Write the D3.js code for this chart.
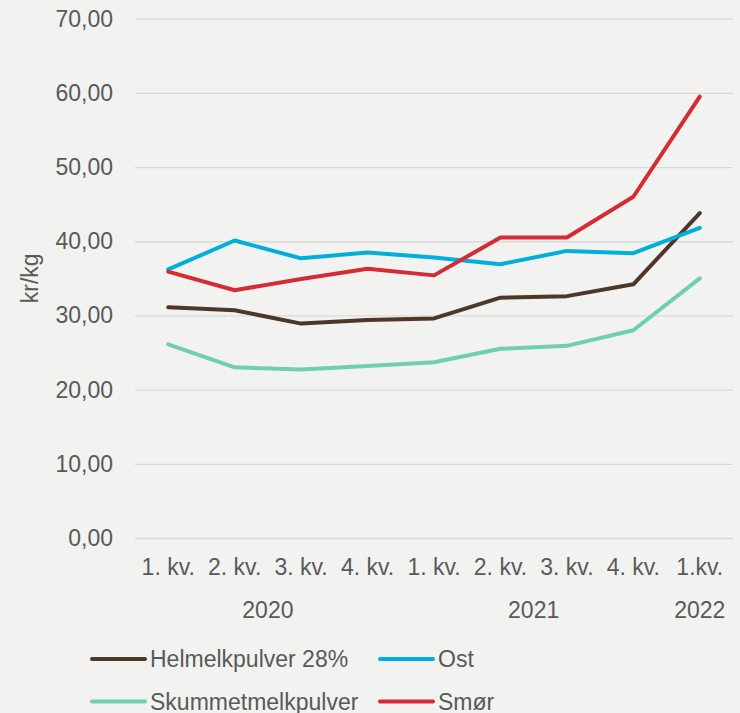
<!DOCTYPE html>
<html>
<head>
<meta charset="utf-8">
<script src="https://cdn.jsdelivr.net/npm/d3@7"></script>
<style>
  body { margin: 0; background: #f2f2f0; }
  text { font-family: "Liberation Sans", Arial, sans-serif; fill: #595959; }
</style>
</head>
<body>
<div id="chart-area"></div>
<script>
const quarters = ["1. kv.", "2. kv.", "3. kv.", "4. kv.", "1. kv.", "2. kv.", "3. kv.", "4. kv.", "1.kv."];
const years = [
  { label: "2020", from: 0, to: 3 },
  { label: "2021", from: 4, to: 7 },
  { label: "2022", from: 8, to: 8 }
];
const yTicks = [0, 10, 20, 30, 40, 50, 60, 70];

const helmelk = [31.1, 30.7, 28.9, 29.4, 29.6, 32.4, 32.6, 34.2, 43.8];
const ost = [36.2, 40.1, 37.7, 38.5, 37.8, 36.9, 38.7, 38.4, 41.8];
const smor = [35.9, 33.4, 34.9, 36.3, 35.4, 40.5, 40.5, 46.0, 59.5];
const skummet = [26.1, 23.0, 22.7, 23.2, 23.7, 25.5, 25.9, 28.0, 35.0];

const series = [
  { name: "Helmelkpulver 28%", values: helmelk, color: "#4e3629" },
  { name: "Ost", values: ost, color: "#00b0da" },
  { name: "Skummetmelkpulver", values: skummet, color: "#6fcfb0" },
  { name: "Smør", values: smor, color: "#d52b35" }
];

const width = 740, height = 713;
const plotLeft = 135, plotRight = 733, plotTop = 18.7, plotBottom = 538;

const svg = d3.select("#chart-area").append("svg")
    .attr("width", width)
    .attr("height", height);

svg.append("rect").attr("width", width).attr("height", height).attr("fill", "#f2f2f0");

const x = d3.scaleBand().domain(d3.range(quarters.length)).range([plotLeft, plotRight]);
const y = d3.scaleLinear().domain([0, 70]).range([plotBottom, plotTop]);

// gridlines + y labels
const yAxis = svg.append("g")
    .attr("transform", `translate(${plotLeft},0)`)
    .call(d3.axisLeft(y).tickValues(yTicks).tickSize(-(plotRight - plotLeft)).tickPadding(22)
      .tickFormat(d => d3.format(".2f")(d).replace(".", ",")));
yAxis.select(".domain").remove();
yAxis.selectAll(".tick line").attr("stroke", "#d9d9d9").attr("stroke-width", 1.3);
yAxis.selectAll(".tick text").attr("font-size", 23).attr("fill", "#595959")
    .attr("font-family", "Liberation Sans, Arial, sans-serif");

svg.append("text")
    .attr("transform", `translate(38,${(plotTop + plotBottom) / 2}) rotate(-90)`)
    .attr("text-anchor", "middle")
    .attr("font-size", 23)
    .text("kr/kg");

// x labels, quarter then year
const xAxis = svg.append("g")
    .attr("transform", `translate(0,${plotBottom})`)
    .call(d3.axisBottom(x).tickSize(0).tickPadding(0).tickFormat(i => quarters[i]));
xAxis.select(".domain").remove();
xAxis.selectAll(".tick text").attr("font-size", 23).attr("dy", null).attr("y", 37)
    .attr("fill", "#595959").attr("font-family", "Liberation Sans, Arial, sans-serif");

svg.selectAll(".year").data(years).enter().append("text")
    .attr("class", "year")
    .attr("x", d => (x(d.from) + x(d.to) + x.bandwidth()) / 2)
    .attr("y", 618)
    .attr("text-anchor", "middle")
    .attr("font-size", 23)
    .text(d => d.label);

// lines
const line = d3.line()
    .x((d, i) => x(i) + x.bandwidth() / 2)
    .y(d => y(d));

svg.selectAll(".series").data(series).enter().append("path")
    .attr("class", "series")
    .attr("d", d => line(d.values))
    .attr("fill", "none")
    .attr("stroke", d => d.color)
    .attr("stroke-width", 4)
    .attr("stroke-linejoin", "round")
    .attr("stroke-linecap", "round");

// legend, 2 columns
const legendPos = [[92, 659], [380, 659], [92, 701.5], [380, 701.5]];
const legend = svg.selectAll(".legend").data(series).enter().append("g")
    .attr("class", "legend")
    .attr("transform", (d, i) => `translate(${legendPos[i][0]},${legendPos[i][1]})`);

legend.append("line")
    .attr("x1", 0).attr("x2", 53)
    .attr("stroke", d => d.color)
    .attr("stroke-width", 4)
    .attr("stroke-linecap", "round");

legend.append("text")
    .attr("x", 58)
    .attr("dy", "0.35em")
    .attr("font-size", 23)
    .text(d => d.name);
</script>
</body>
</html>
